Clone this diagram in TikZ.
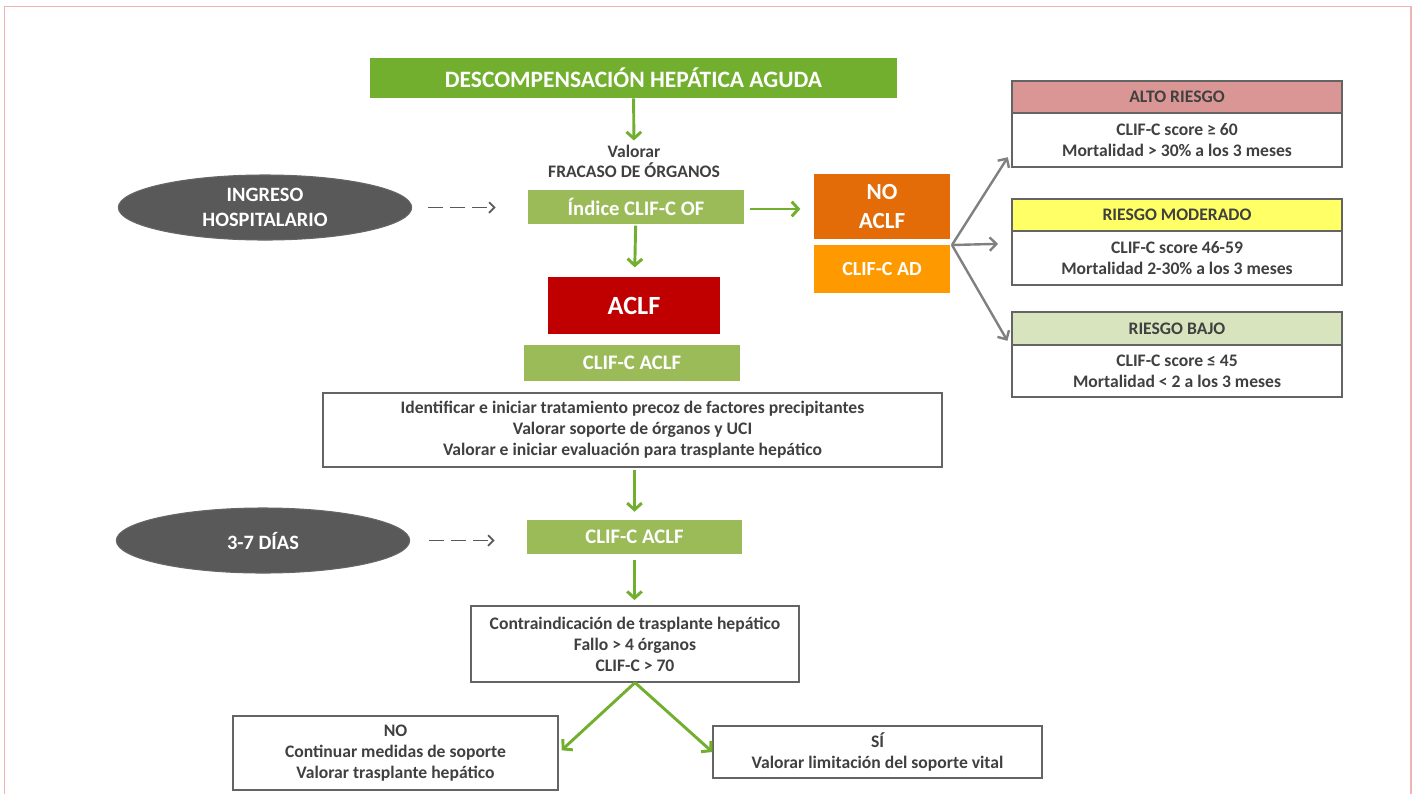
\documentclass[tikz,border=0pt]{standalone}
\usepackage{fontspec}
\setmainfont{Carlito}
\usetikzlibrary{shapes.geometric,arrows.meta}
\definecolor{darktext}{RGB}{64,64,64}
\definecolor{titlegreen}{RGB}{114,175,46}
\definecolor{softgreen}{RGB}{155,187,89}
\definecolor{darkorange}{RGB}{227,108,9}
\definecolor{lightorange}{RGB}{255,153,0}
\definecolor{aclfred}{RGB}{192,0,0}
\definecolor{ovalgray}{RGB}{89,89,89}
\definecolor{boxline}{RGB}{100,100,100}
\definecolor{pagepink}{RGB}{240,180,180}
\definecolor{altopink}{RGB}{218,150,148}
\definecolor{modyellow}{RGB}{255,255,102}
\definecolor{bajogreen}{RGB}{215,228,189}
\definecolor{arrowgray}{RGB}{128,128,128}

\begin{document}
\begin{tikzpicture}[x=0.75pt,y=-0.75pt,
    every node/.style={font=\bfseries,text=darktext},
    filled/.style={inner sep=0pt,text=white,align=center,font=\bfseries\fontsize{15.5}{18}\selectfont},
    oval/.style={ellipse,draw=black!60,line width=0.8pt,fill=ovalgray,text=white,inner sep=0pt,
      minimum width=220pt,minimum height=48.75pt,align=center,font=\bfseries\fontsize{15.3}{18.75}\selectfont},
    textbox/.style={draw=boxline,line width=0.9pt,fill=white,inner sep=0pt,align=center,
      font=\bfseries\fontsize{13.2}{15.75}\selectfont},
    riskhead/.style={textbox,minimum width=247.5pt,minimum height=24pt},
    riskbody/.style={textbox,minimum width=247.5pt,minimum height=40.5pt},
    garrow/.style={draw=titlegreen,line width=2.2pt,-{Straight Barb[length=5pt,width=11pt]}},
    grayarrow/.style={draw=arrowgray,line width=1.8pt,-{Straight Barb[length=5pt,width=10pt]}},
    dasharrow/.style={draw=ovalgray,line width=1.4pt,dash pattern=on 11pt off 5.5pt,-{Straight Barb[length=4pt,width=8pt]}}]
\useasboundingbox (0,0) rectangle (1415,794);
\draw[pagepink,line width=1pt] (4.5,794) -- (4.5,6.5) -- (1411,6.5) -- (1411,794);

\node[filled,fill=titlegreen,minimum width=395pt,minimum height=30pt,font=\bfseries\fontsize{17.6}{20}\selectfont] (title) at (633.5,78) {DESCOMPENSACIÓN HEPÁTICA AGUDA};
\node[align=center,inner sep=2pt,font=\bfseries\fontsize{13.2}{15}\selectfont] (valorar) at (634,161) {Valorar\\FRACASO DE ÓRGANOS};
\node[filled,fill=softgreen,minimum width=162pt,minimum height=25.5pt] (indice) at (636,207) {Índice CLIF-C OF};
\node[oval] (ingreso) at (265,207.5) {INGRESO\\HOSPITALARIO};
\node[filled,fill=darkorange,minimum width=102pt,minimum height=48.75pt,font=\bfseries\fontsize{17.3}{21.75}\selectfont] (noaclf) at (882,206.5) {NO\\ACLF};
\node[filled,fill=lightorange,minimum width=102pt,minimum height=36pt,font=\bfseries\fontsize{15}{18}\selectfont] (clifad) at (882,269) {CLIF-C AD};
\node[filled,fill=aclfred,minimum width=129pt,minimum height=42.75pt,font=\bfseries\fontsize{19.7}{22}\selectfont] (aclf) at (634,305.5) {ACLF};
\node[filled,fill=softgreen,minimum width=162pt,minimum height=27pt] (clifaclf) at (632,363) {CLIF-C ACLF};
\node[textbox,minimum width=464.25pt,minimum height=55.5pt] (medidas) at (632.5,430) {Identificar e iniciar tratamiento precoz de factores precipitantes\\Valorar soporte de órganos y UCI\\Valorar e iniciar evaluación para trasplante hepático};
\node[oval] (dias) at (263,540.5) {3-7 DÍAS};
\node[filled,fill=softgreen,minimum width=161.25pt,minimum height=25.5pt] (clifaclfdos) at (634.5,537) {CLIF-C ACLF};
\node[textbox,minimum width=246pt,minimum height=57pt] (contra) at (635,644) {Contraindicación de trasplante hepático\\Fallo > 4 órganos\\CLIF-C > 70};
\node[textbox,minimum width=243.75pt,minimum height=55.5pt] (nobox) at (395.5,753) {NO\\Continuar medidas de soporte\\Valorar trasplante hepático};
\node[textbox,minimum width=246.75pt,minimum height=39pt] (sibox) at (877.5,752) {SÍ\\Valorar limitación del soporte vital};

\node[riskhead,fill=altopink] (altohead) at (1177,97) {ALTO RIESGO};
\node[riskbody] (altobody) at (1177,140) {CLIF-C score ≥ 60\\Mortalidad > 30\% a los 3 meses};
\node[riskhead,fill=modyellow] (modhead) at (1177,215) {RIESGO MODERADO};
\node[riskbody] (modbody) at (1177,258) {CLIF-C score 46-59\\Mortalidad 2-30\% a los 3 meses};
\node[riskhead,fill=bajogreen,minimum height=24.75pt] (bajohead) at (1177,328.5) {RIESGO BAJO};
\node[riskbody,minimum height=39pt] (bajobody) at (1177,371) {CLIF-C score ≤ 45\\Mortalidad < 2 a los 3 meses};

\coordinate (split) at (952,245);

\draw[garrow,shorten >=1pt] (title) -- (valorar);
\draw[garrow,shorten <=1pt,shorten >=7pt] (indice) -- (aclf);
\draw[garrow,shorten <=4pt,shorten >=10pt] (indice.east |- 0,209) -- (noaclf.west |- 0,209);
\draw[garrow,shorten <=2pt,shorten >=6pt] (medidas.south -| clifaclfdos) -- (clifaclfdos);
\draw[garrow,shorten <=4pt,shorten >=4pt] (clifaclfdos) -- (clifaclfdos |- contra.north);
\draw[garrow,shorten >=3pt] (contra.south) -- (nobox.east);
\draw[garrow] (contra.south) -- (sibox.west);
\draw[dasharrow,shorten <=12pt,shorten >=24pt] (ingreso.east) -- (ingreso.east -| indice.west);
\draw[dasharrow,shorten <=14pt,shorten >=24pt] (dias.east) -- (dias.east -| clifaclfdos.west);
\draw[grayarrow,shorten >=5pt] (split) -- (altobody.184.5);
\draw[grayarrow,shorten >=10pt] (split) -- (modbody.175);
\draw[grayarrow,shorten >=6pt] (split) -- (bajobody.172.7);
\end{tikzpicture}
\end{document}
